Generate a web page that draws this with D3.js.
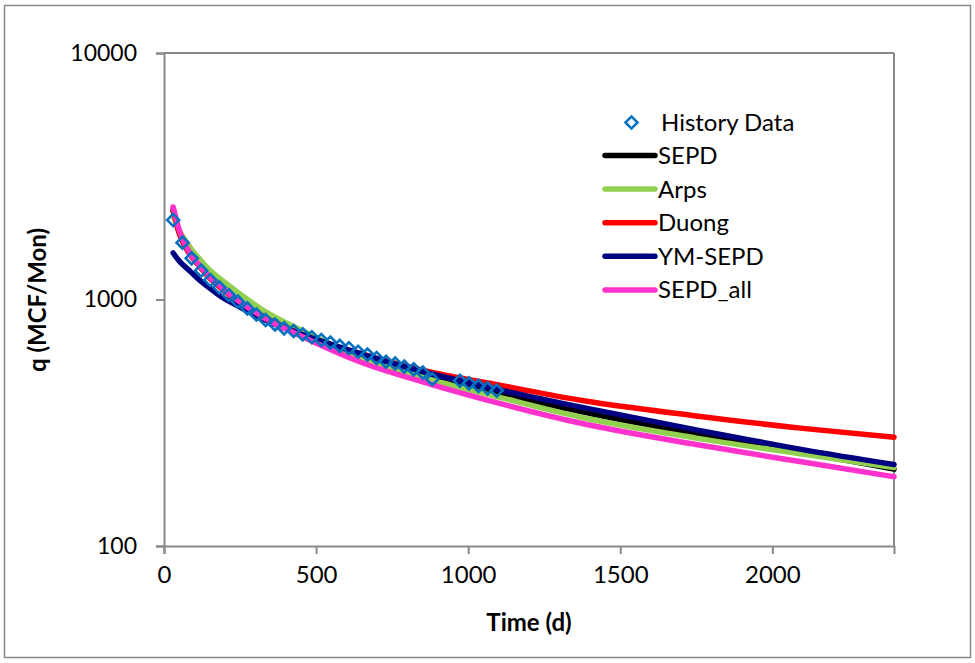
<!DOCTYPE html>
<html>
<head>
<meta charset="utf-8">
<script src="https://cdn.jsdelivr.net/npm/d3@7"></script>
<style>
  html, body { margin: 0; padding: 0; background: #fff; }
  svg { display: block; }
  text { font-family: Lato, "Open Sans", sans-serif; fill: #000; }
</style>
</head>
<body>
<svg id="chart" width="975" height="663"></svg>
<script>
// ---- Data ----
const historyTimes = [30, 61, 91, 122, 152, 182, 213, 243, 274, 304, 334, 365, 395, 426, 456, 486, 517, 547, 578, 608, 638, 669, 699, 730, 760, 790, 821, 851, 882, 973, 1003, 1034, 1064, 1094];
const historyValues = [2101, 1700, 1469, 1309, 1200, 1119, 1043, 980, 920, 869, 826, 792, 764, 745, 722, 703, 685, 668, 648, 634, 614, 598, 579, 559, 550, 534, 521, 505, 475, 468, 457, 446, 436, 427];

const curveTimes = [30, 50, 85, 120, 150, 185, 250, 325, 450, 650, 875, 1100, 1375, 1750, 2100, 2400];
const sepdValues    = [2286, 1861, 1530, 1355, 1228, 1124, 977, 857, 728, 596, 490, 418, 350, 285, 240, 205];
const arpsValues    = [2182, 1914, 1633, 1446, 1317, 1211, 1053, 907, 752, 584, 474, 402, 332, 274, 236, 208];
const duongValues   = [2328, 1861, 1530, 1349, 1223, 1119, 972, 853, 724, 601, 508, 450, 389, 337, 300, 276];
const ymSepdValues  = [1544, 1433, 1305, 1189, 1114, 1033, 932, 833, 724, 601, 501, 431, 365, 296, 246, 214];
const sepdAllValues = [2373, 1914, 1544, 1361, 1234, 1134, 977, 849, 711, 555, 454, 380, 314, 258, 219, 191];

const seriesNames = ["SEPD", "Arps", "Duong", "YM-SEPD", "SEPD_all"];
const seriesColors = ["#000000", "#92D050", "#FF0000", "#000080", "#FF33CC"];
const seriesValues = [sepdValues, arpsValues, duongValues, ymSepdValues, sepdAllValues];

const xTicks = [0, 500, 1000, 1500, 2000];
const yTicks = [100, 1000, 10000];
const xTitle = "Time (d)";
const yTitle = "q (MCF/Mon)";
const historyLabel = "History Data";

// ---- Layout ----
const svg = d3.select("#chart");
const L = 164, R = 894, T = 53, B = 546;
const x = d3.scaleLinear().domain([0, 2400]).range([L, R]);
const y = d3.scaleLog().domain([100, 10000]).range([B, T]);
const axisColor = "#898989";
const fs = 24;

// outer chart border
svg.append("rect").attr("x", 4.5).attr("y", 5.5).attr("width", 966).attr("height", 652)
  .attr("fill", "none").attr("stroke", axisColor).attr("stroke-width", 1.5);

// plot area frame (top & right)
svg.append("line").attr("x1", L).attr("x2", R).attr("y1", T).attr("y2", T)
  .attr("stroke", axisColor).attr("stroke-width", 2);
svg.append("line").attr("x1", R).attr("x2", R).attr("y1", T).attr("y2", B)
  .attr("stroke", axisColor).attr("stroke-width", 2);

// axes
const xAxis = d3.axisBottom(x).tickValues(xTicks).tickSize(8).tickPadding(12).tickFormat(d3.format("d"));
const gx = svg.append("g").attr("transform", `translate(0,${B})`).call(xAxis);
gx.select(".domain").attr("stroke", axisColor).attr("stroke-width", 2);
gx.selectAll(".tick line").attr("stroke", axisColor).attr("stroke-width", 2);
gx.selectAll(".tick text").attr("font-size", fs).attr("font-family", "Lato").attr("fill", "#000");

const yAxis = d3.axisLeft(y).tickValues(yTicks).tickSize(8).tickPadding(19).tickFormat(d3.format("d"));
const gy = svg.append("g").attr("transform", `translate(${L},0)`).call(yAxis);
gy.select(".domain").attr("stroke", axisColor).attr("stroke-width", 2);
gy.selectAll(".tick line").attr("stroke", axisColor).attr("stroke-width", 2);
gy.selectAll(".tick text").attr("font-size", fs - 1).attr("font-family", "Lato").attr("fill", "#000");

// titles
svg.append("text").attr("x", 529).attr("y", 631).attr("text-anchor", "middle")
  .attr("font-size", fs).attr("font-weight", "bold").text(xTitle);
svg.append("text").attr("transform", "translate(46,300) rotate(-90)").attr("text-anchor", "middle")
  .attr("font-size", fs).attr("font-weight", "bold").text(yTitle);

// curves
const line = d3.line().x(d => x(d[0])).y(d => y(d[1])).curve(d3.curveMonotoneX);
seriesValues.forEach((vals, i) => {
  const pts = curveTimes.map((t, j) => [t, vals[j]]);
  svg.append("path").datum(pts).attr("d", line)
    .attr("fill", "none").attr("stroke", seriesColors[i]).attr("stroke-width", 5.5)
    .attr("stroke-linecap", "round").attr("stroke-linejoin", "round");
});

// history data diamonds
const diamond = d3.symbol().type(d3.symbolSquare).size(72);
svg.append("g").selectAll("path").data(historyTimes.map((t, i) => [t, historyValues[i]]))
  .join("path")
  .attr("d", diamond)
  .attr("transform", d => `translate(${x(d[0])},${y(d[1])}) rotate(45)`)
  .attr("fill", "none").attr("stroke", "#0070C0").attr("stroke-width", 2.6);

// legend
const lg = svg.append("g");
lg.append("path").attr("d", diamond)
  .attr("transform", "translate(631.5,122.5) rotate(45)")
  .attr("fill", "none").attr("stroke", "#0070C0").attr("stroke-width", 2.6);
lg.append("text").attr("x", 661).attr("y", 122.5).attr("dy", "0.35em")
  .attr("font-size", fs).text(historyLabel);
seriesNames.forEach((name, i) => {
  const ly = 155.5 + i * 33.6;
  lg.append("line").attr("x1", 605).attr("x2", 655).attr("y1", ly).attr("y2", ly)
    .attr("stroke", seriesColors[i]).attr("stroke-width", 5.5).attr("stroke-linecap", "round");
  lg.append("text").attr("x", 658).attr("y", ly).attr("dy", "0.35em")
    .attr("font-size", fs).text(name);
});
</script>
</body>
</html>
